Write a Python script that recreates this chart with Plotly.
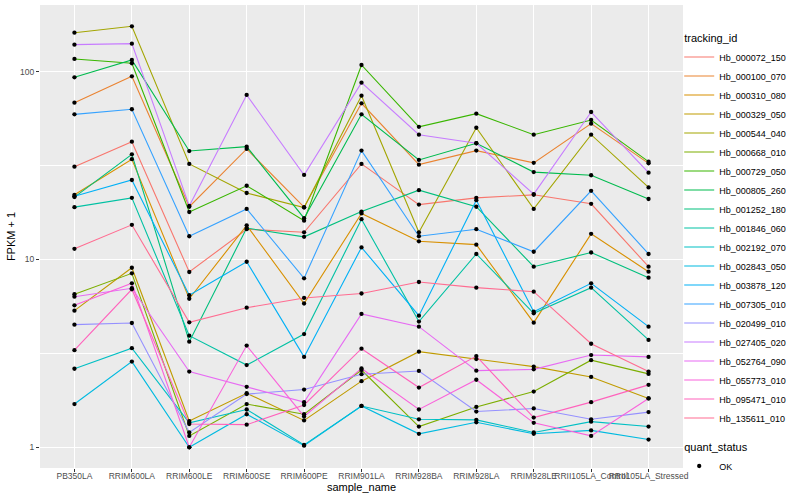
import plotly.graph_objects as go

samples = ["PB350LA", "RRIM600LA", "RRIM600LE", "RRIM600SE", "RRIM600PE", "RRIM901LA",
           "RRIM928BA", "RRIM928LA", "RRIM928LE", "RRII105LA_Control", "RRII105LA_Stressed"]

tracking_ids = ["Hb_000072_150", "Hb_000100_070", "Hb_000310_080", "Hb_000329_050", "Hb_000544_040",
                "Hb_000668_010", "Hb_000729_050", "Hb_000805_260", "Hb_001252_180", "Hb_001846_060",
                "Hb_002192_070", "Hb_002843_050", "Hb_003878_120", "Hb_007305_010", "Hb_020499_010",
                "Hb_027405_020", "Hb_052764_090", "Hb_055773_010", "Hb_095471_010", "Hb_135611_010"]

# FPKM + 1 per sample (same order as samples)
hb_000072_150 = [31.2, 42.4, 8.58, 14.5, 13.96, 32.3, 19.6, 21.3, 22.1, 19.8, 9.16]
hb_000100_070 = [68.4, 94.5, 19.1, 38.8, 19.0, 67.9, 32.0, 38.0, 32.7, 52.9, 32.5]
hb_000310_080 = [22.1, 34.2, 6.18, 15.2, 5.83, 17.6, 12.5, 12.0, 4.61, 13.7, 8.61]
hb_000329_050 = [5.34, 9.04, 1.38, 1.94, 1.39, 2.25, 3.23, 2.95, 2.69, 2.37, 1.82]
hb_000544_040 = [161.3, 174.5, 32.3, 22.6, 18.9, 74.5, 13.96, 50.3, 18.6, 46.2, 24.2]
hb_000668_010 = [6.53, 8.44, 1.15, 1.70, 1.50, 2.58, 1.29, 1.64, 1.98, 2.91, 2.46]
hb_000729_050 = [116.9, 110.9, 17.9, 24.7, 16.1, 108.6, 50.9, 59.8, 46.2, 55.3, 33.2]
hb_000805_260 = [93.4, 115.4, 37.8, 39.9, 16.6, 59.3, 33.9, 41.6, 29.2, 28.1, 21.0]
hb_001252_180 = [21.5, 36.3, 3.65, 14.7, 13.2, 18.0, 23.4, 19.1, 9.16, 10.9, 8.00]
hb_001846_060 = [19.0, 21.3, 3.93, 2.74, 4.01, 16.4, 4.67, 10.7, 5.17, 7.08, 3.73]
hb_002192_070 = [2.62, 3.37, 1.35, 1.59, 1.03, 1.66, 1.41, 1.40, 1.20, 1.37, 1.29]
hb_002843_050 = [1.70, 2.86, 1.00, 1.50, 1.02, 1.66, 1.18, 1.36, 1.18, 1.23, 1.10]
hb_003878_120 = [21.7, 26.5, 6.45, 9.73, 3.03, 11.6, 5.02, 20.7, 5.27, 7.47, 4.39]
hb_007305_010 = [59.3, 63.1, 13.3, 18.6, 7.94, 38.0, 13.3, 14.5, 11.0, 23.2, 10.7]
hb_020499_010 = [4.50, 4.59, 1.20, 1.92, 2.03, 2.45, 2.55, 1.55, 1.61, 1.41, 1.54]
hb_027405_020 = [139.3, 141.0, 19.3, 75.2, 28.2, 87.4, 46.2, 41.6, 22.3, 61.0, 29.0]
hb_052764_090 = [6.34, 7.03, 2.53, 2.10, 1.74, 5.13, 4.39, 2.56, 2.60, 3.10, 3.03]
hb_055773_010 = [5.70, 7.47, 1.00, 3.48, 1.46, 2.63, 1.59, 2.29, 1.35, 1.15, 1.82]
hb_095471_010 = [3.29, 6.94, 1.33, 1.32, 1.68, 3.35, 2.08, 3.06, 1.44, 1.74, 2.15]
hb_135611_010 = [11.4, 15.3, 4.63, 5.54, 6.24, 6.59, 7.59, 7.08, 6.74, 3.56, 2.53]

series = [hb_000072_150, hb_000100_070, hb_000310_080, hb_000329_050, hb_000544_040,
          hb_000668_010, hb_000729_050, hb_000805_260, hb_001252_180, hb_001846_060,
          hb_002192_070, hb_002843_050, hb_003878_120, hb_007305_010, hb_020499_010,
          hb_027405_020, hb_052764_090, hb_055773_010, hb_095471_010, hb_135611_010]

colors = ["#F8766D", "#EA8331", "#D89000", "#C09B00", "#A3A500", "#7CAE00", "#39B600", "#00BB4E",
          "#00BF7D", "#00C1A3", "#00BFC4", "#00BAE0", "#00B0F6", "#35A2FF", "#9590FF", "#C77CFF",
          "#E76BF3", "#FA62DB", "#FF62BC", "#FF6C91"]

FONT = "Liberation Sans, Arial, sans-serif"

fig = go.Figure()
for i, (name, vals, col) in enumerate(zip(tracking_ids, series, colors)):
    fig.add_trace(go.Scatter(
        x=samples, y=vals, mode="lines", name=name,
        line=dict(color=col, width=1.1),
        legendgroup="tracking_id",
        legendgrouptitle=dict(text="tracking_id", font=dict(size=11, color="black")) if i == 0 else None,
    ))

all_x = [s for vals in series for s in samples]
all_y = [v for vals in series for v in vals]
fig.add_trace(go.Scatter(
    x=all_x, y=all_y, mode="markers", name="OK",
    marker=dict(color="black", size=4.3, symbol="circle"),
    legendgroup="quant_status",
    legendgrouptitle=dict(text="quant_status", font=dict(size=11, color="black")),
))

fig.update_layout(
    width=800, height=500,
    margin=dict(l=40, r=116.5, t=5, b=32, autoexpand=False),
    paper_bgcolor="white",
    plot_bgcolor="#EBEBEB",
    font=dict(family=FONT, size=9, color="black"),
    showlegend=True,
    legend=dict(
        xref="container", yref="container", x=0.849, y=0.953,
        xanchor="left", yanchor="top",
        font=dict(size=9, color="black"),
        tracegroupgap=10,
        itemwidth=30,
        maxheight=490,
        bgcolor="rgba(0,0,0,0)",
    ),
    xaxis=dict(
        type="category", categoryorder="array", categoryarray=samples,
        range=[-0.6, 10.6], automargin=False,
        showgrid=True, gridcolor="white", gridwidth=1.07,
        zeroline=False, showline=False,
        ticks="outside", ticklen=3, tickcolor="#333333", tickwidth=1,
        tickangle=0, ticklabelstandoff=-3,
        tickfont=dict(size=8.5, color="#4D4D4D", family=FONT),
        title=dict(text="sample_name", font=dict(size=11, color="black", family=FONT), standoff=2),
    ),
    yaxis=dict(
        type="log", automargin=False,
        range=[-0.1102, 2.3552],
        tickvals=[1, 10, 100], ticktext=["1", "10", "100"],
        showgrid=True, gridcolor="white", gridwidth=1.07,
        minor=dict(tickvals=[10 ** 0.5, 10 ** 1.5], showgrid=True, gridcolor="white", gridwidth=0.53, ticks=""),
        zeroline=False, showline=False,
        ticks="outside", ticklen=3, tickcolor="#333333", tickwidth=1,
        tickfont=dict(size=8.5, color="#4D4D4D", family=FONT),
        title=dict(text="FPKM + 1", font=dict(size=11, color="black", family=FONT), standoff=2),
    ),
)

fig.write_html("out.html", config={"displayModeBar": False},
               post_script="document.body.style.margin='0px';document.body.style.overflow='hidden';")
